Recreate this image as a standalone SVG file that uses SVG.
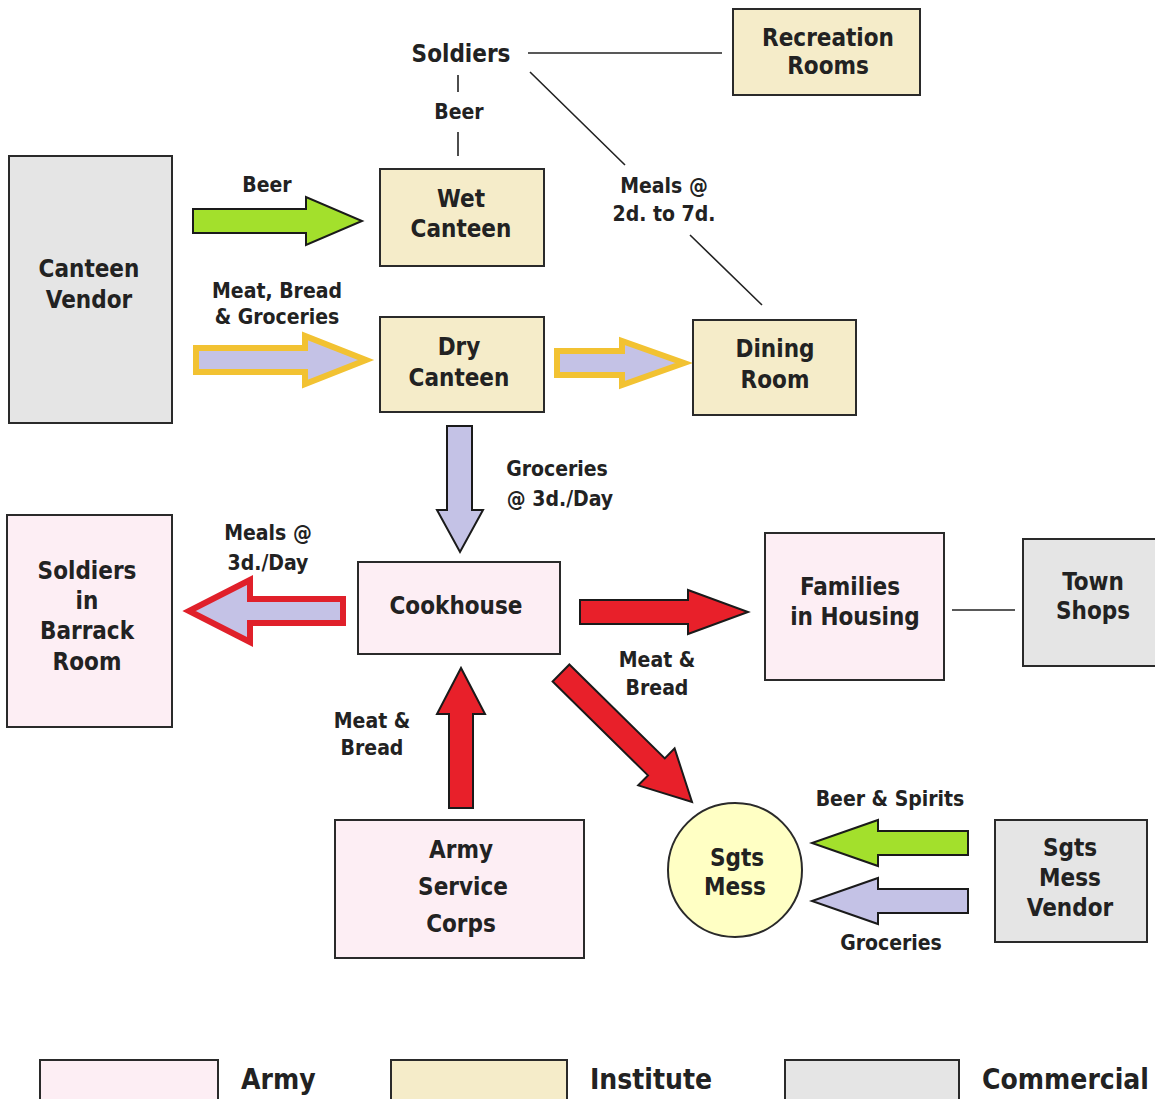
<svg xmlns="http://www.w3.org/2000/svg" width="1155" height="1099" viewBox="0 0 1155 1099">
<style>
.box{stroke:#2a2a2a;stroke-width:2}
.army{fill:#fdeef4}
.inst{fill:#f5ecc9}
.comm{fill:#e5e5e5}
text{font-family:"DejaVu Sans Condensed","DejaVu Sans",sans-serif;font-weight:700;fill:#222;text-anchor:middle}
.t{font-size:24px}
.s{font-size:21px}
.leg{font-size:28px;text-anchor:start;font-weight:700;font-family:"DejaVu Sans Condensed",sans-serif}
.ln{stroke:#222;stroke-width:1.6;fill:none}
.green{fill:#a3e02c;stroke:#1a1a1a;stroke-width:2}
.lav{fill:#c4c2e6;stroke:#1a1a1a;stroke-width:2}
.red{fill:#e8202a;stroke:#1a1a1a;stroke-width:2}
.yel{fill:#c4c2e6;stroke:#f2c232;stroke-width:6;stroke-linejoin:miter}
.redo{fill:#c4c2e6;stroke:#e0202a;stroke-width:6;stroke-linejoin:miter}
</style>
<rect width="1155" height="1099" fill="#fff"/>
<g id="connectors">
<path class="ln" d="M528 53H722"/>
<path class="ln" d="M458 75V92M458 132V156"/>
<path class="ln" d="M530 72L625 165M690 235L762 305"/>
<path class="ln" d="M952 610H1015"/>
<polygon class="green" points="193,209 306,209 306,197 362,221 306,245 306,233 193,233"/>
<polygon class="yel" points="196,348 305,348 305,336 366,360 305,384 305,372 196,372"/>
<polygon class="yel" points="557,351 622,351 622,341 684,363 622,385 622,375 557,375"/>
<polygon class="lav" points="447,426 472,426 472,510 483,510 460,552 437,510 447,510"/>
<polygon class="redo" points="343,599 250,599 250,580 189,611 250,642 250,623 343,623"/>
<polygon class="red" points="580,600 688,600 688,590 748,612 688,634 688,624 580,624"/>
<polygon class="red" points="449,808 449,714 437,714 461,668 485,714 473,714 473,808"/>
<polygon class="red" points="569.4,664.5 664.8,758.4 674.6,748.4 692,802 638.2,785.4 648,775.4 552.6,681.5"/>
<polygon class="green" points="968,831 878,831 878,820 812,843 878,866 878,855 968,855"/>
<polygon class="lav" points="968,889 878,889 878,878 812,901 878,924 878,913 968,913"/>
</g>
<g id="soldiers"><text class="t" x="461" y="62">Soldiers</text></g>
<g id="lbl-beer1"><text class="s" x="459" y="119">Beer</text></g>
<g id="lbl-meals1"><text class="s" x="664" y="193">Meals @</text><text class="s" x="664" y="221">2d. to 7d.</text></g>
<g id="recreation"><rect class="box inst" x="733" y="9" width="187" height="86"/><text class="t" x="828" y="46">Recreation</text><text class="t" x="828" y="74">Rooms</text></g>
<g id="canteen-vendor"><rect class="box comm" x="9" y="156" width="163" height="267"/><text class="t" x="89" y="277">Canteen</text><text class="t" x="89" y="308">Vendor</text></g>
<g id="wet-canteen"><rect class="box inst" x="380" y="169" width="164" height="97"/><text class="t" x="461" y="207">Wet</text><text class="t" x="461" y="237">Canteen</text></g>
<g id="lbl-beer2"><text class="s" x="267" y="192">Beer</text></g>
<g id="lbl-mbg"><text class="s" x="277" y="298">Meat, Bread</text><text class="s" x="277" y="324">&amp; Groceries</text></g>
<g id="dry-canteen"><rect class="box inst" x="380" y="317" width="164" height="95"/><text class="t" x="459" y="355">Dry</text><text class="t" x="459" y="386">Canteen</text></g>
<g id="dining-room"><rect class="box inst" x="693" y="320" width="163" height="95"/><text class="t" x="775" y="357">Dining</text><text class="t" x="775" y="388">Room</text></g>
<g id="lbl-groc"><text class="s" x="557" y="476">Groceries</text><text class="s" x="560" y="506">@ 3d./Day</text></g>
<g id="soldiers-barrack"><rect class="box army" x="7" y="515" width="165" height="212"/><text class="t" x="87" y="579">Soldiers</text><text class="t" x="87" y="609">in</text><text class="t" x="87" y="639">Barrack</text><text class="t" x="87" y="670">Room</text></g>
<g id="lbl-meals2"><text class="s" x="268" y="540">Meals @</text><text class="s" x="268" y="570">3d./Day</text></g>
<g id="cookhouse"><rect class="box army" x="358" y="562" width="202" height="92"/><text class="t" x="456" y="614">Cookhouse</text></g>
<g id="families"><rect class="box army" x="765" y="533" width="179" height="147"/><text class="t" x="850" y="595">Families</text><text class="t" x="855" y="625">in Housing</text></g>
<g id="town-shops"><rect class="box comm" x="1023" y="539" width="140" height="127"/><text class="t" x="1093" y="590">Town</text><text class="t" x="1093" y="619">Shops</text></g>
<g id="lbl-mb1"><text class="s" x="657" y="667">Meat &amp;</text><text class="s" x="657" y="695">Bread</text></g>
<g id="lbl-mb2"><text class="s" x="372" y="728">Meat &amp;</text><text class="s" x="372" y="755">Bread</text></g>
<g id="asc"><rect class="box army" x="335" y="820" width="249" height="138"/><text class="t" x="461" y="858">Army</text><text class="t" x="463" y="895">Service</text><text class="t" x="461" y="932">Corps</text></g>
<g id="sgts-mess"><circle cx="735" cy="870" r="67" fill="#ffffc4" stroke="#2a2a2a" stroke-width="2"/><text class="t" x="737" y="866">Sgts</text><text class="t" x="735" y="895">Mess</text></g>
<g id="lbl-bs"><text class="s" x="890" y="806">Beer &amp; Spirits</text></g>
<g id="lbl-groc2"><text class="s" x="891" y="950">Groceries</text></g>
<g id="sgts-vendor"><rect class="box comm" x="995" y="820" width="152" height="122"/><text class="t" x="1070" y="856">Sgts</text><text class="t" x="1070" y="886">Mess</text><text class="t" x="1070" y="916">Vendor</text></g>
<g id="legend">
<rect class="box army" x="40" y="1060" width="178" height="45"/><text class="leg" x="241" y="1089">Army</text>
<rect class="box inst" x="391" y="1060" width="176" height="45"/><text class="leg" x="590" y="1089">Institute</text>
<rect class="box comm" x="785" y="1060" width="174" height="45"/><text class="leg" x="982" y="1089">Commercial</text>
</g>
</svg>
